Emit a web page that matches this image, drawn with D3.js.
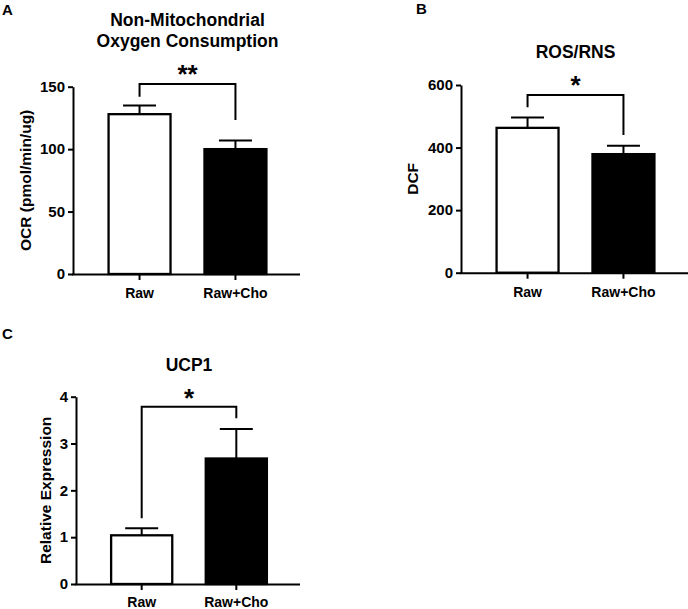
<!DOCTYPE html>
<html>
<head>
<meta charset="utf-8">
<script src="https://cdn.jsdelivr.net/npm/d3@7"></script>
<style>
  html, body { margin: 0; padding: 0; background: #fff; }
  svg { display: block; font-family: "Liberation Sans", Arial, sans-serif; }
</style>
</head>
<body>
<svg id="chart" width="688" height="609"></svg>
<script>
// ---- Data ----
const categories = ["Raw", "Raw+Cho"];

const ocrMeans = [128, 100];
const ocrErrors = [7, 7];
const ocrTicks = [0, 50, 100, 150];

const dcfMeans = [463, 379];
const dcfErrors = [33, 27];
const dcfTicks = [0, 200, 400, 600];

const ucpMeans = [1.04, 2.68];
const ucpErrors = [0.15, 0.63];
const ucpTicks = [0, 1, 2, 3, 4];

const panels = [
  { letter: "A", title: ["Non-Mitochondrial", "Oxygen Consumption"], yLabel: "OCR (pmol/min/ug)",
    means: ocrMeans, errors: ocrErrors, ticks: ocrTicks, sig: "**",
    x0: 73, xEnd: 300, yTop: 86.7, yBase: 274, letterPos: [2, 15], titleY: [26, 47],
    yLabelX: 25, bracketY: 84, legBottom: [96.7, 120], starY: 83, xLabelY: 298 },
  { letter: "B", title: ["ROS/RNS"], yLabel: "DCF",
    means: dcfMeans, errors: dcfErrors, ticks: dcfTicks, sig: "*",
    x0: 461, xEnd: 688, yTop: 85, yBase: 272.7, letterPos: [416, 14], titleY: [58],
    yLabelX: 412, bracketY: 95, legBottom: [107.3, 135], starY: 94, xLabelY: 297 },
  { letter: "C", title: ["UCP1"], yLabel: "Relative Expression",
    means: ucpMeans, errors: ucpErrors, ticks: ucpTicks, sig: "*",
    x0: 76, xEnd: 300, yTop: 396.7, yBase: 584, letterPos: [2, 339], titleY: [371],
    yLabelX: 45, bracketY: 406.7, legBottom: [518.3, 418.3], starY: 407, xLabelY: 607 }
];

const svg = d3.select("#chart");
const fills = ["#ffffff", "#000000"];
const FONT = "Liberation Sans, Arial, sans-serif";

panels.forEach(p => {
  const g = svg.append("g");
  const maxV = p.ticks[p.ticks.length - 1];
  const y = d3.scaleLinear().domain([0, maxV]).range([p.yBase, p.yTop]);
  const x = d3.scaleBand().domain(categories).range([p.x0 + 2, p.xEnd])
    .paddingInner(0.354).paddingOuter(0.35);
  const cx = c => x(c) + x.bandwidth() / 2;

  // bars
  categories.forEach((c, i) => {
    // error bar (upper only)
    g.append("line")
      .attr("x1", cx(c)).attr("x2", cx(c))
      .attr("y1", y(p.means[i])).attr("y2", y(p.means[i] + p.errors[i]))
      .attr("stroke", "#000").attr("stroke-width", 2);
    g.append("line")
      .attr("x1", cx(c) - 16.5).attr("x2", cx(c) + 16.5)
      .attr("y1", y(p.means[i] + p.errors[i])).attr("y2", y(p.means[i] + p.errors[i]))
      .attr("stroke", "#000").attr("stroke-width", 2);
    g.append("rect")
      .attr("x", x(c)).attr("width", x.bandwidth())
      .attr("y", y(p.means[i])).attr("height", y(0) - y(p.means[i]))
      .attr("fill", fills[i]).attr("stroke", "#000").attr("stroke-width", 2.3);
  });

  // y axis
  const yAxis = g.append("g").attr("transform", `translate(${p.x0},0)`)
    .call(d3.axisLeft(y).tickValues(p.ticks).tickFormat(d3.format("d"))
      .tickSize(5).tickSizeOuter(0).tickPadding(3));
  yAxis.select(".domain").attr("stroke-width", 2);
  yAxis.selectAll(".tick line").attr("stroke-width", 2);
  yAxis.selectAll(".tick text").attr("font-size", 15).attr("font-weight", "bold")
    .attr("fill", "#000").attr("font-family", FONT);

  // x axis
  const xAxis = g.append("g").attr("transform", `translate(0,${p.yBase})`)
    .call(d3.axisBottom(x).tickSize(6).tickSizeOuter(0).tickPadding(8));
  xAxis.select(".domain").attr("stroke-width", 2)
    .attr("d", `M${p.x0 - 1},0.5H${p.xEnd}`);
  xAxis.selectAll(".tick line").attr("stroke-width", 2);
  xAxis.selectAll(".tick text").attr("font-size", 14).attr("font-weight", "bold")
    .attr("fill", "#000").attr("font-family", FONT)
    .attr("dy", null).attr("y", p.xLabelY - p.yBase);

  // y label
  g.append("text")
    .attr("transform", `translate(${p.yLabelX},${(p.yBase + p.yTop) / 2}) rotate(-90)`)
    .attr("text-anchor", "middle").attr("dominant-baseline", "central")
    .attr("font-size", 15.5).attr("font-weight", "bold").text(p.yLabel);

  // title
  const tx = (cx(categories[0]) + cx(categories[1])) / 2;
  p.title.forEach((t, i) => {
    g.append("text").attr("x", tx).attr("y", p.titleY[i])
      .attr("text-anchor", "middle").attr("font-size", 17.5).attr("font-weight", "bold").text(t);
  });

  // panel letter
  g.append("text").attr("x", p.letterPos[0]).attr("y", p.letterPos[1])
    .attr("font-size", 15).attr("font-weight", "bold").text(p.letter);

  // significance bracket
  const x1 = cx(categories[0]), x2 = cx(categories[1]);
  g.append("path")
    .attr("d", `M${x1},${p.legBottom[0]}V${p.bracketY}H${x2}V${p.legBottom[1]}`)
    .attr("fill", "none").attr("stroke", "#000").attr("stroke-width", 2);
  g.append("text").attr("x", tx).attr("y", p.starY)
    .attr("text-anchor", "middle").attr("font-size", 26).attr("font-weight", "bold").text(p.sig);
});
</script>
</body>
</html>
